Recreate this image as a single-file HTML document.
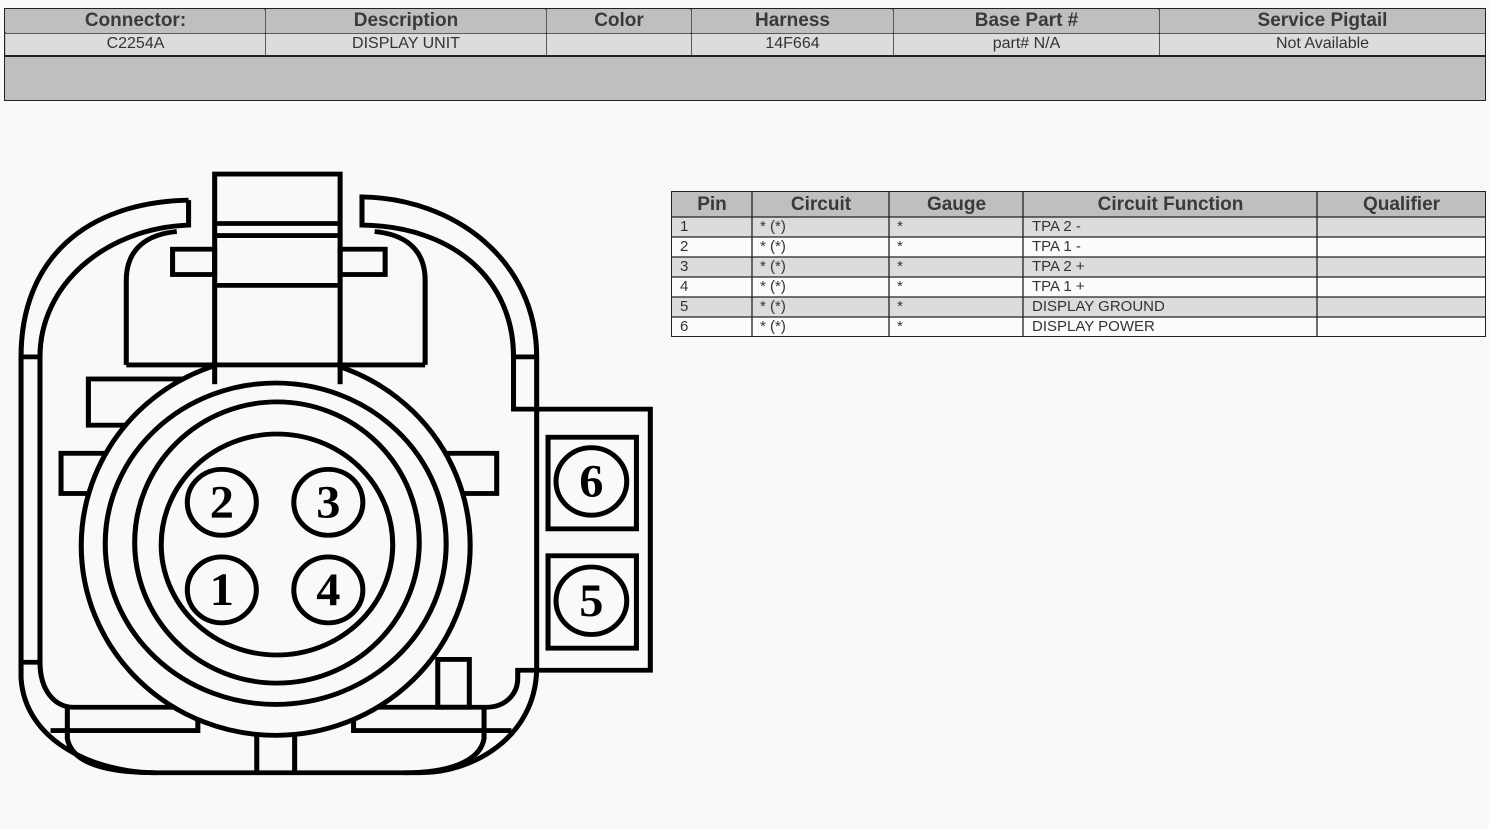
<!DOCTYPE html>
<html><head><meta charset="utf-8"><style>
body{margin:0;width:1489px;height:829px;background:#f9f9f9;font-family:"Liberation Sans",Arial,sans-serif;position:relative;overflow:hidden}
.c{position:absolute;box-sizing:border-box;color:#333;white-space:nowrap;overflow:hidden}
.h{background:#bfbfbf;font-weight:bold;font-size:19px;text-align:center;line-height:22px;color:#3a3a3a}
.d{background:#dcdcdc;font-size:16px;text-align:center;line-height:20px}
.ph{background:#bfbfbf;font-weight:bold;font-size:19px;text-align:center;line-height:25px;color:#3a3a3a}
.r{font-size:15px;line-height:18px;padding-left:8px;color:#333}
</style></head><body>
<div style="position:absolute;left:4px;top:8px;width:1482px;height:93px;box-sizing:border-box;border:1px solid #222;background:#bfbfbf"></div>
<svg width="1489" height="829" style="position:absolute;left:0;top:0" xmlns="http://www.w3.org/2000/svg">
<g stroke="#222" stroke-width="1.3" fill="none">
<line x1="5" y1="33" x2="1485" y2="33"/>
<line x1="5" y1="56" x2="1485" y2="56" stroke-width="2"/>
<line x1="265" y1="9" x2="265" y2="55"/><line x1="546" y1="9" x2="546" y2="55"/><line x1="691" y1="9" x2="691" y2="55"/><line x1="893" y1="9" x2="893" y2="55"/><line x1="1159" y1="9" x2="1159" y2="55"/>
</g>
</svg>
<div class="c h" style="left:6px;top:10px;width:259px;height:23px">Connector:</div>
<div class="c h" style="left:266px;top:10px;width:280px;height:23px">Description</div>
<div class="c h" style="left:547px;top:10px;width:144px;height:23px">Color</div>
<div class="c h" style="left:692px;top:10px;width:201px;height:23px">Harness</div>
<div class="c h" style="left:894px;top:10px;width:265px;height:23px">Base Part #</div>
<div class="c h" style="left:1160px;top:10px;width:325px;height:23px">Service Pigtail</div>
<div class="c d" style="left:6px;top:34px;width:259px;height:21px">C2254A</div>
<div class="c d" style="left:266px;top:34px;width:280px;height:21px">DISPLAY UNIT</div>
<div class="c d" style="left:547px;top:34px;width:144px;height:21px"></div>
<div class="c d" style="left:692px;top:34px;width:201px;height:21px">14F664</div>
<div class="c d" style="left:894px;top:34px;width:265px;height:21px">part# N/A</div>
<div class="c d" style="left:1160px;top:34px;width:325px;height:21px">Not Available</div>

<div style="position:absolute;left:671px;top:191px;width:815px;height:146px;border:1px solid #222;box-sizing:border-box;background:#fbfbfb"></div>
<div class="c ph" style="left:672px;top:192px;width:813px;height:25px"></div>
<div style="position:absolute;left:672px;top:217px;width:813px;height:20px;background:#dcdcdc"></div>
<div style="position:absolute;left:672px;top:257px;width:813px;height:20px;background:#dcdcdc"></div>
<div style="position:absolute;left:672px;top:297px;width:813px;height:20px;background:#dcdcdc"></div>
<div class="c ph" style="left:672px;top:192px;width:80px;height:25px;background:none">Pin</div>
<div class="c ph" style="left:753px;top:192px;width:136px;height:25px;background:none">Circuit</div>
<div class="c ph" style="left:890px;top:192px;width:133px;height:25px;background:none">Gauge</div>
<div class="c ph" style="left:1024px;top:192px;width:293px;height:25px;background:none">Circuit Function</div>
<div class="c ph" style="left:1318px;top:192px;width:167px;height:25px;background:none">Qualifier</div>
<svg width="1489" height="829" style="position:absolute;left:0;top:0" xmlns="http://www.w3.org/2000/svg">
<g stroke="#222" stroke-width="1.3">
<line x1="671" y1="217" x2="1485" y2="217"/><line x1="671" y1="237" x2="1485" y2="237"/><line x1="671" y1="257" x2="1485" y2="257"/><line x1="671" y1="277" x2="1485" y2="277"/><line x1="671" y1="297" x2="1485" y2="297"/><line x1="671" y1="317" x2="1485" y2="317"/>
<line x1="752" y1="191" x2="752" y2="337"/><line x1="889" y1="191" x2="889" y2="337"/><line x1="1023" y1="191" x2="1023" y2="337"/><line x1="1317" y1="191" x2="1317" y2="337"/>
</g></svg>
<div class="c r" style="left:672px;top:218px">1</div><div class="c r" style="left:752px;top:218px">* (*)</div><div class="c r" style="left:889px;top:218px">*</div><div class="c r" style="left:1024px;top:218px">TPA 2 -</div>
<div class="c r" style="left:672px;top:238px">2</div><div class="c r" style="left:752px;top:238px">* (*)</div><div class="c r" style="left:889px;top:238px">*</div><div class="c r" style="left:1024px;top:238px">TPA 1 -</div>
<div class="c r" style="left:672px;top:258px">3</div><div class="c r" style="left:752px;top:258px">* (*)</div><div class="c r" style="left:889px;top:258px">*</div><div class="c r" style="left:1024px;top:258px">TPA 2 +</div>
<div class="c r" style="left:672px;top:278px">4</div><div class="c r" style="left:752px;top:278px">* (*)</div><div class="c r" style="left:889px;top:278px">*</div><div class="c r" style="left:1024px;top:278px">TPA 1 +</div>
<div class="c r" style="left:672px;top:298px">5</div><div class="c r" style="left:752px;top:298px">* (*)</div><div class="c r" style="left:889px;top:298px">*</div><div class="c r" style="left:1024px;top:298px">DISPLAY GROUND</div>
<div class="c r" style="left:672px;top:318px">6</div><div class="c r" style="left:752px;top:318px">* (*)</div><div class="c r" style="left:889px;top:318px">*</div><div class="c r" style="left:1024px;top:318px">DISPLAY POWER</div>

<svg width="660" height="630" viewBox="0 0 1568 1568" preserveAspectRatio="none" style="position:absolute;left:0;top:160px" xmlns="http://www.w3.org/2000/svg">
<g stroke="#000" stroke-width="12" fill="none">
<path d="M448,100 C200,105 50,250 50,490 L50,1290 C60,1450 230,1525 370,1525 L1000,1525"/>
<path d="M1275,1270 L1275,490 C1275,250 1080,95 860,92 L860,162 C1080,165 1220,300 1220,490 L1220,620 L1545,620 L1545,1270 L1230,1270 L1230,1290 C1230,1330 1200,1362 1155,1362"/>
<path d="M1275,1270 C1270,1440 1120,1525 1000,1525"/>
<path d="M448,100 L448,162 C250,170 95,310 95,490 L95,1250 C95,1320 130,1362 175,1362 L1155,1362"/>
<line x1="50" y1="490" x2="95" y2="490"/><line x1="50" y1="1250" x2="95" y2="1250"/>
<line x1="1220" y1="490" x2="1275" y2="490"/>
<path d="M120,1420 L470,1420 L470,1370"/>
<path d="M840,1370 L840,1420 L1215,1420"/>
<path d="M160,1362 L160,1440 C170,1500 250,1525 370,1525"/>
<path d="M1150,1362 L1150,1440 C1140,1500 1060,1525 960,1525"/>
<path d="M610,1430 L610,1525 M700,1430 L700,1525"/>
<rect x="1040" y="1243" width="75" height="119"/>
<rect x="210" y="545" width="220" height="115"/>
<rect x="145" y="730" width="120" height="100"/>
<rect x="1060" y="730" width="120" height="100"/>
<path d="M300,510 L300,300 C300,220 350,185 420,178"/>
<path d="M1010,510 L1010,300 C1010,220 960,185 890,178"/>
<line x1="300" y1="510" x2="1010" y2="510"/>
</g>
<ellipse cx="655" cy="960" rx="462" ry="472" fill="#f9f9f9" stroke="#000" stroke-width="12"/>
<rect x="516" y="470" width="286" height="100" fill="#f9f9f9"/>
<g stroke="#000" stroke-width="12" fill="none">
<line x1="510" y1="505" x2="510" y2="558"/><line x1="808" y1="505" x2="808" y2="558"/>
<ellipse cx="655" cy="955" rx="405" ry="400"/>
<ellipse cx="658" cy="952" rx="338" ry="350"/>
<ellipse cx="658" cy="957" rx="275" ry="275"/>
<rect x="510" y="35" width="298" height="475" fill="#f9f9f9"/>
<line x1="510" y1="158" x2="808" y2="158"/><line x1="510" y1="188" x2="808" y2="188"/><line x1="510" y1="312" x2="808" y2="312"/>
<rect x="410" y="222" width="100" height="63"/><rect x="808" y="222" width="107" height="63"/>
<rect x="1302" y="690" width="210" height="228"/><rect x="1302" y="985" width="210" height="230"/>
</g>
<g stroke="#000" stroke-width="12" fill="#f9f9f9">
<circle cx="527" cy="852" r="82"/><circle cx="780" cy="852" r="82"/>
<circle cx="527" cy="1070" r="82"/><circle cx="780" cy="1070" r="82"/>
<circle cx="1405" cy="800" r="84"/><circle cx="1405" cy="1097" r="84"/>
</g>
<g font-family="Liberation Serif, serif" font-weight="bold" font-size="115" text-anchor="middle" fill="#000">
<text x="527" y="890">2</text><text x="780" y="890">3</text>
<text x="527" y="1108">1</text><text x="780" y="1108">4</text>
<text x="1405" y="838">6</text><text x="1405" y="1135">5</text>
</g>
</svg>
</body></html>
